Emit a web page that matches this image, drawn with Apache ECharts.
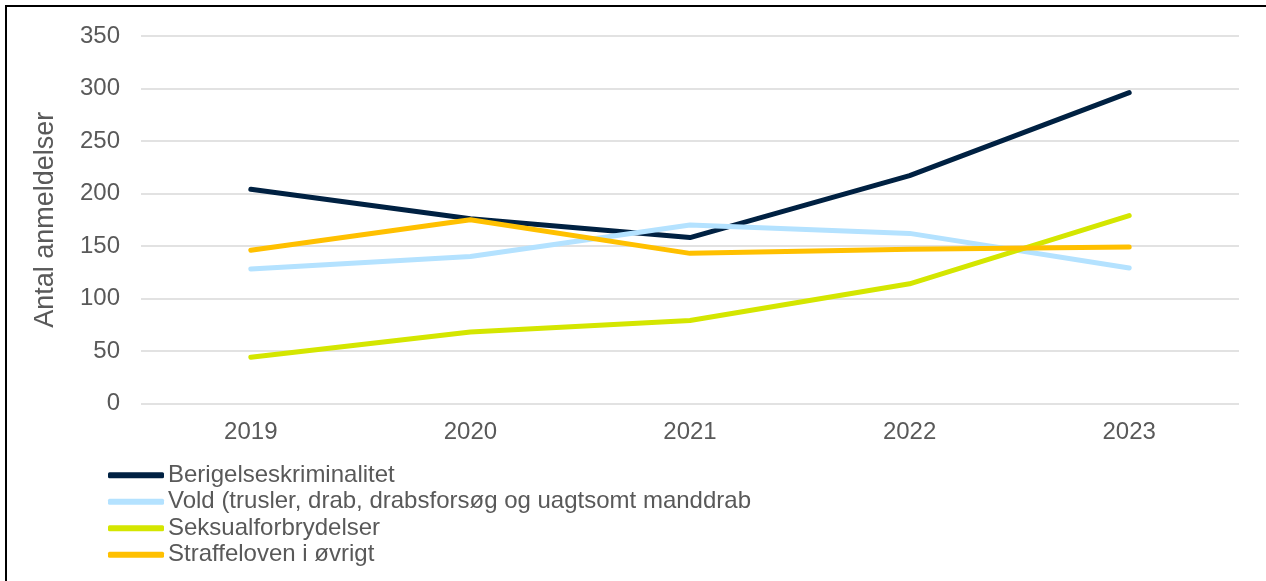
<!DOCTYPE html>
<html>
<head>
<meta charset="utf-8">
<script src="https://cdn.jsdelivr.net/npm/echarts@6/dist/echarts.min.js"></script>
<style>
html,body{margin:0;padding:0;background:#fff;}
#chart{width:1266px;height:581px;}
#frame{position:absolute;left:5px;top:5px;width:1300px;height:600px;border-top:2px solid #000;border-left:2px solid #000;pointer-events:none;}
</style>
</head>
<body>
<div id="chart"></div>
<div id="frame"></div>
<script>
const categories = ['2019', '2020', '2021', '2022', '2023'];
const berigelses = [204, 176, 158, 217, 296];
const vold = [128, 140, 170, 162, 129];
const seksual = [44, 68, 79, 114, 179];
const straffeloven = [146, 175, 143, 147, 149];
const seriesNames = ['Berigelseskriminalitet', 'Vold (trusler, drab, drabsforsøg og uagtsomt manddrab', 'Seksualforbrydelser', 'Straffeloven i øvrigt'];
const seriesColors = ['#002142', '#b4e2ff', '#d4e600', '#ffc000'];
const yTicks = [0, 50, 100, 150, 200, 250, 300, 350];

const chart = echarts.init(document.getElementById('chart'));
const values = [berigelses, vold, seksual, straffeloven];
const font = '"Liberation Sans", Arial, sans-serif';
chart.setOption({
  animation: false,
  backgroundColor: '#fff',
  grid: { left: 141, right: 27, top: 36, bottom: 177.5 },
  xAxis: {
    type: 'category',
    data: categories,
    boundaryGap: true,
    axisLine: { show: false },
    axisTick: { show: false },
    axisLabel: { color: '#595959', fontSize: 24, fontFamily: font, margin: 17 }
  },
  yAxis: {
    type: 'value',
    min: yTicks[0],
    max: yTicks[yTicks.length - 1],
    interval: 50,
    name: 'Antal anmeldelser',
    nameLocation: 'middle',
    nameGap: 82,
    nameTextStyle: { color: '#595959', fontSize: 27, fontFamily: font },
    axisLine: { show: false },
    axisTick: { show: false },
    axisLabel: { color: '#595959', fontSize: 24, fontFamily: font, margin: 21 },
    splitLine: { lineStyle: { color: '#d9d9d9', width: 1.5 } }
  },
  legend: {
    orient: 'vertical',
    left: 103,
    top: 457,
    itemGap: 0,
    itemWidth: 56,
    itemHeight: 6,
    icon: 'roundRect',
    textStyle: { color: '#595959', fontSize: 24, fontFamily: font, lineHeight: 26.5, padding: [0, 0, 0, -1] },
    data: seriesNames
  },
  series: seriesNames.map((n, i) => ({
    name: n,
    type: 'line',
    data: values[i],
    symbol: 'none',
    color: seriesColors[i],
    lineStyle: { width: 5, color: seriesColors[i], cap: 'round', join: 'round' }
  }))
});
</script>
</body>
</html>
